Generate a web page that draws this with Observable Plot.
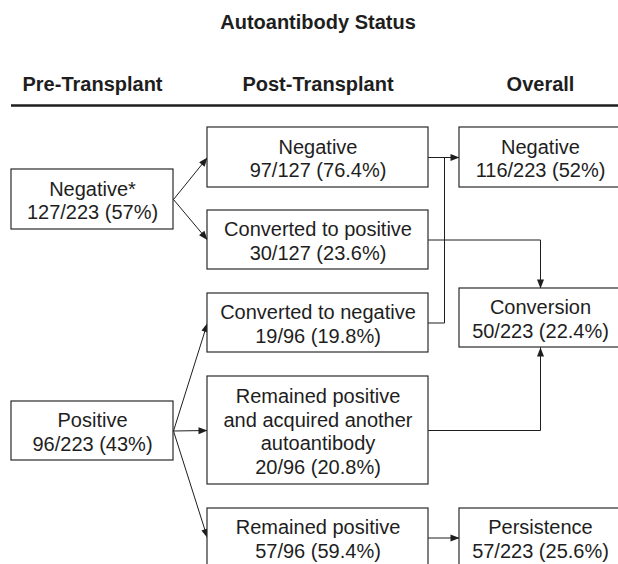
<!DOCTYPE html>
<html>
<head>
<meta charset="utf-8">
<script src="https://cdn.jsdelivr.net/npm/d3@7"></script>
<script src="https://cdn.jsdelivr.net/npm/@observablehq/plot@0.6"></script>
<style>
  html, body { margin: 0; padding: 0; background: #fff; overflow: hidden; }
  #chart svg { display: block; }
</style>
</head>
<body>
<div id="chart"></div>
<script>
// ---------- data ----------
const title = "Autoantibody Status";
const stages = ["Pre-Transplant", "Post-Transplant", "Overall"];

const nodeIds = ["preNeg", "prePos", "postNeg", "postConvPos", "postConvNeg", "postAcq", "postRem", "allNeg", "allConv", "allPers"];
const nodeStage = ["Pre-Transplant", "Pre-Transplant", "Post-Transplant", "Post-Transplant", "Post-Transplant", "Post-Transplant", "Post-Transplant", "Overall", "Overall", "Overall"];
const nodeLabels = ["Negative*", "Positive", "Negative", "Converted to positive", "Converted to negative",
  "Remained positive\nand acquired another\nautoantibody", "Remained positive", "Negative", "Conversion", "Persistence"];
const nodeCounts = [127, 96, 97, 30, 19, 20, 57, 116, 50, 57];
const nodeTotals = [223, 223, 127, 127, 96, 96, 96, 223, 223, 223];
const nodePercents = ["57%", "43%", "76.4%", "23.6%", "19.8%", "20.8%", "59.4%", "52%", "22.4%", "25.6%"];

const linkSources = ["preNeg", "preNeg", "prePos", "prePos", "prePos", "postNeg", "postConvNeg", "postConvPos", "postAcq", "postRem"];
const linkTargets = ["postNeg", "postConvPos", "postConvNeg", "postAcq", "postRem", "allNeg", "allNeg", "allConv", "allConv", "allPers"];

// ---------- layout (pixels) ----------
const W = 618, H = 564;
const layout = {
  columns: {"Pre-Transplant": [11, 173], "Post-Transplant": [207, 428], "Overall": [459, 621]},
  nodeY: {
    preNeg: [169, 229], prePos: [401, 460],
    postNeg: [127, 187], postConvPos: [210, 269], postConvNeg: [293, 352], postAcq: [376, 484], postRem: [508, 567],
    allNeg: [127, 187], allConv: [288, 347], allPers: [508, 567]
  },
  // route style per link index
  routes: ["direct", "direct", "direct", "direct", "direct", "direct", "join", "down", "up", "direct"],
  joinX: 444,
  titleX: 317.5, titleY: 21.8,
  headerY: 83.6,
  ruleY: 105, ruleX: [11, 618],
  fontSize: 20, lineHeight: 1.18,
  headLen: 9, headHalf: 3.5
};
const font = "'Liberation Sans', Arial, Helvetica, sans-serif";
const ink = "#1e1e1e";

// ---------- derived ----------
const nodes = nodeIds.map((id, i) => {
  const [x1, x2] = layout.columns[nodeStage[i]];
  const [y1, y2] = layout.nodeY[id];
  return {id, x1, x2, y1, y2, cx: (x1 + x2) / 2, cy: (y1 + y2) / 2,
    text: `${nodeLabels[i]}\n${nodeCounts[i]}/${nodeTotals[i]} (${nodePercents[i]})`};
});
const byId = Object.fromEntries(nodes.map(n => [n.id, n]));

const paths = [];
const heads = [];
linkSources.forEach((s, i) => {
  const a = byId[s], b = byId[linkTargets[i]];
  const kind = layout.routes[i];
  let pts;
  if (kind === "direct") pts = [[a.x2, a.cy], [b.x1, b.cy]];
  else if (kind === "join") pts = [[a.x2, a.cy], [layout.joinX, a.cy], [layout.joinX, b.cy]];
  else if (kind === "down") pts = [[a.x2, a.cy], [b.cx, a.cy], [b.cx, b.y1]];
  else pts = [[a.x2, a.cy], [b.cx, a.cy], [b.cx, b.y2]];
  pts.forEach(([x, y]) => paths.push({link: i, x, y}));
  if (kind !== "join") {
    const [px, py] = pts[pts.length - 2], [tx, ty] = pts[pts.length - 1];
    const len = Math.hypot(tx - px, ty - py), ux = (tx - px) / len, uy = (ty - py) / len;
    const bx = tx - ux * layout.headLen, by = ty - uy * layout.headLen;
    const nx = -uy * layout.headHalf, ny = ux * layout.headHalf;
    [[tx, ty], [bx + nx, by + ny], [bx - nx, by - ny], [tx, ty]].forEach(([x, y]) => heads.push({link: i, x, y}));
  }
});

const headerRows = stages.map(s => ({text: s, x: (layout.columns[s][0] + layout.columns[s][1]) / 2}));

const chart = Plot.plot({
  width: W, height: H,
  margin: 0,
  x: {domain: [0, W], range: [0, W], axis: null},
  y: {domain: [0, H], range: [0, H], axis: null},
  style: {background: "#fff", fontFamily: font},
  marks: [
    Plot.text([title], {x: layout.titleX, y: layout.titleY, text: d => d, fontSize: layout.fontSize, fontWeight: "bold", fill: ink, fontFamily: font}),
    Plot.text(headerRows, {x: "x", y: layout.headerY, text: "text", fontSize: layout.fontSize, fontWeight: "bold", fill: ink, fontFamily: font}),
    Plot.ruleY([layout.ruleY], {x1: layout.ruleX[0], x2: layout.ruleX[1], stroke: ink, strokeWidth: 2.6}),
    Plot.line(paths, {x: "x", y: "y", z: "link", stroke: ink, strokeWidth: 1, curve: "linear"}),
    Plot.line(heads, {x: "x", y: "y", z: "link", stroke: "none", fill: ink}),
    Plot.rect(nodes, {x1: "x1", x2: "x2", y1: "y1", y2: "y2", fill: "#fff", stroke: "#2a2a2a", strokeWidth: 1.2}),
    Plot.text(nodes, {x: "cx", y: "cy", text: "text", fontSize: layout.fontSize, lineHeight: layout.lineHeight, dy: 0.5, fill: ink, fontFamily: font})
  ]
});
document.getElementById("chart").append(chart);
</script>
</body>
</html>
